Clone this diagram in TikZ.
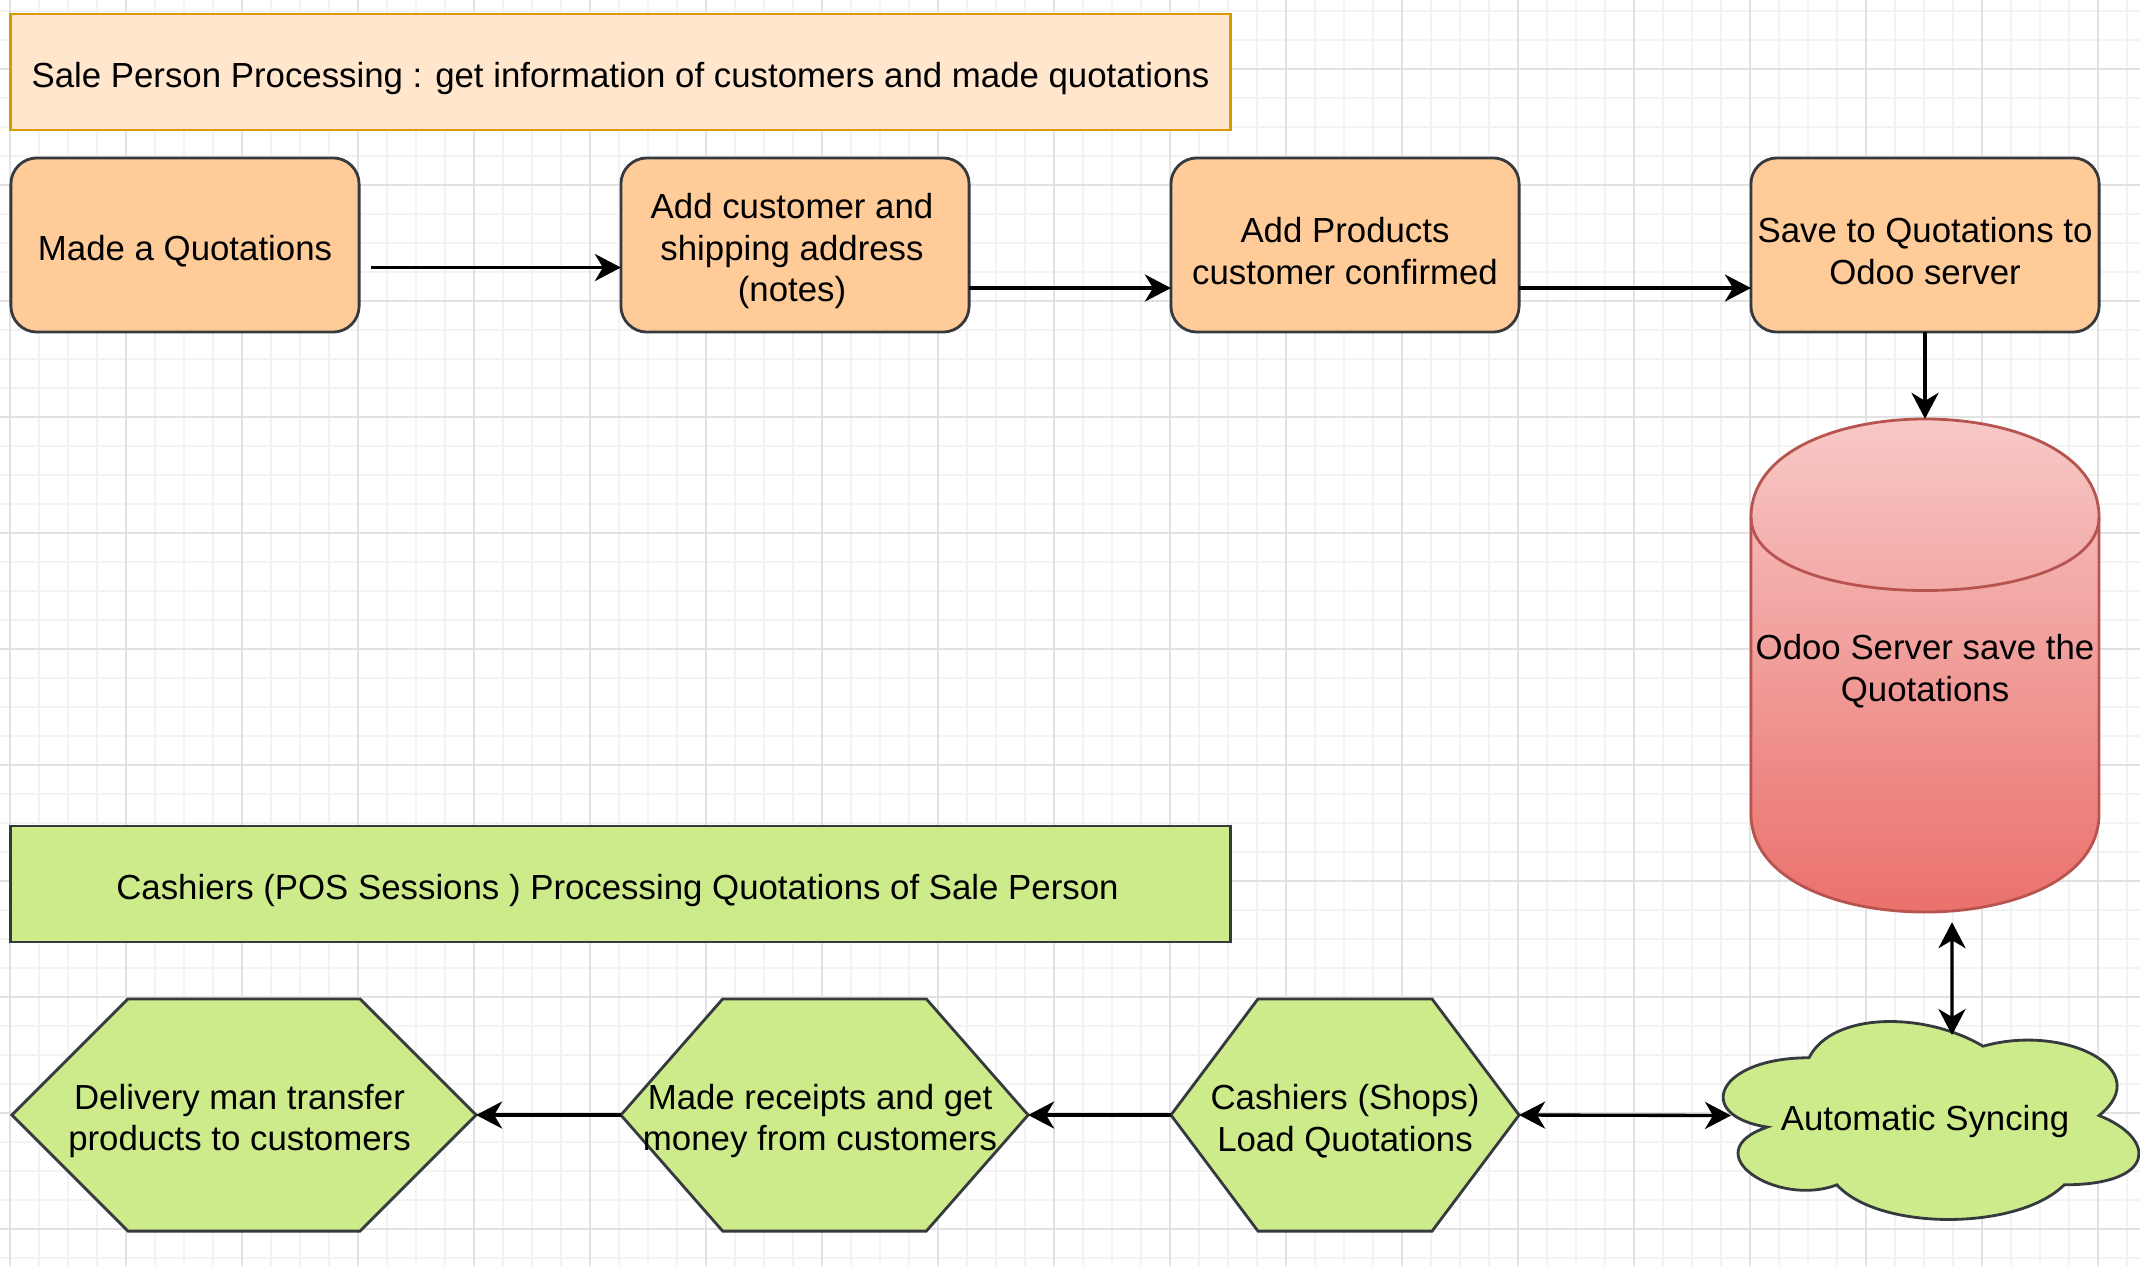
\documentclass[tikz,border=0pt]{standalone}
\usepackage{fontspec}
\setmainfont{Liberation Sans}
\usetikzlibrary{arrows.meta}
\definecolor{peachL}{HTML}{FFE6CC}
\definecolor{peachS}{HTML}{D79B00}
\definecolor{peach}{HTML}{FFCC99}
\definecolor{darkS}{HTML}{36393D}
\definecolor{lime}{HTML}{CDEB8B}
\definecolor{redT}{HTML}{F8CECC}
\definecolor{redB}{HTML}{EA6B66}
\definecolor{redS}{HTML}{B85450}
\definecolor{gridminor}{HTML}{F3F3F3}
\definecolor{gridmajor}{HTML}{E2E2E2}
\pgfdeclarelayer{gridlayer}
\pgfdeclarelayer{bg}
\pgfsetlayers{gridlayer,bg,main}
\tikzset{
  shp/.style={inner sep=0pt, outer sep=0pt},
  lbl/.style={font=\fontsize{9.9}{11.9}\selectfont, align=center, inner sep=0pt, outer sep=0pt},
  titlebox/.style={shp, draw=peachS, fill=peachL, line width=0.8pt, minimum width=12.19cm, minimum height=1.16cm},
  greenbar/.style={shp, draw=darkS, fill=lime, line width=0.8pt, minimum width=12.19cm, minimum height=1.16cm},
  stepbox/.style={shp, draw=darkS, fill=peach, line width=0.8pt, rounded corners=0.26cm, minimum width=3.48cm, minimum height=1.74cm},
  hexnode/.style={shp, minimum height=2.32cm},
  hexsty/.style={draw=darkS, fill=lime, line width=0.8pt, line join=miter},
  tip/.tip={Stealth[length=0.26cm,width=0.27cm,inset=0.08cm]},
  arr/.style={-tip, line width=0.95pt, black},
  darr/.style={tip-tip, line width=0.95pt, black},
}
\newcommand{\txtat}[3][0cm]{\node[lbl] at ([xshift=#1,yshift=-0.06cm]#2.center) {#3};}
\begin{document}
\begin{tikzpicture}[x=0.01cm,y=-0.01cm]
\useasboundingbox (0,0) rectangle (2140,1266);
\begin{pgfonlayer}{gridlayer}
  \fill[white] (0,0) rectangle (2140,1266);
  \foreach \x in {10,39,...,2140} \draw[gridminor, line width=0.5pt] (\x,0) -- (\x,1266);
  \foreach \y in {11,40,...,1266} \draw[gridminor, line width=0.5pt] (0,\y) -- (2140,\y);
  \foreach \x in {10,126,...,2140} \draw[gridmajor, line width=0.5pt] (\x,0) -- (\x,1266);
  \foreach \y in {69,185,...,1266} \draw[gridmajor, line width=0.5pt] (0,\y) -- (2140,\y);
\end{pgfonlayer}

% cylinder (database)
\shade[top color=redT, bottom color=redB] (1751,517) .. controls (1751,386.3) and (2099,386.3) .. (2099,517) -- (2099,814) .. controls (2099,944.7) and (1751,944.7) .. (1751,814) -- cycle;
\draw[redS, line width=0.8pt] (1751,517) .. controls (1751,386.3) and (2099,386.3) .. (2099,517) -- (2099,814) .. controls (2099,944.7) and (1751,944.7) .. (1751,814) -- cycle;
\draw[redS, line width=0.8pt] (1751,517) .. controls (1751,615) and (2099,615) .. (2099,517);

% cloud
\draw[darkS, fill=lime, line width=0.8pt] (1809,1057.75)
  .. controls (1716.2,1057.75) and (1693,1115.5) .. (1767.24,1127.05)
  .. controls (1693,1152.46) and (1776.52,1207.9) .. (1836.84,1184.8)
  .. controls (1878.6,1231) and (2017.8,1231) .. (2064.2,1184.8)
  .. controls (2157,1184.8) and (2157,1138.6) .. (2099,1115.5)
  .. controls (2157,1069.3) and (2064.2,1023.1) .. (1983,1046.2)
  .. controls (1925,1011.55) and (1832.2,1011.55) .. (1809,1057.75) -- cycle;

% title boxes
\node[titlebox] (t1) at (620.5,72) {};
\txtat{t1}{Sale Person Processing : get information of customers and made quotations}
\node[greenbar] (t2) at (620.5,884) {};
\txtat[-0.03cm]{t2}{Cashiers (POS Sessions ) Processing Quotations of Sale Person}

% row 1
\node[stepbox] (A) at (185,245) {};
\txtat{A}{Made a Quotations}
\node[stepbox] (B) at (795,245) {};
\txtat[-0.03cm]{B}{Add customer and\\shipping address\\(notes)}
\node[stepbox] (C) at (1345,245) {};
\txtat{C}{Add Products\\customer confirmed}
\node[stepbox] (D) at (1925,245) {};
\txtat{D}{Save to Quotations to\\Odoo server}

% database and cloud
\node[shp, minimum width=3.48cm, minimum height=4.93cm] (db) at (1925,665.5) {};
\txtat{db}{Odoo Server save the\\Quotations}
\node[shp, minimum width=4.64cm, minimum height=2.31cm] (cloud) at (1925,1115.5) {};
\txtat{cloud}{Automatic Syncing}
\coordinate (cloudtop) at (1952,1035);
\coordinate (cloudleft) at (1731,1115.5);

% hexagons
\node[hexnode, minimum width=4.64cm] (h1) at (244,1115) {};
\node[hexnode, minimum width=4.07cm] (h2) at (824.5,1115) {};
\node[hexnode, minimum width=3.48cm] (h3) at (1345,1115) {};
\draw[hexsty] (h1.west) -- ([xshift=1.16cm]h1.north west) -- ([xshift=-1.16cm]h1.north east) -- (h1.east) -- ([xshift=-1.16cm]h1.south east) -- ([xshift=1.16cm]h1.south west) -- cycle;
\draw[hexsty] (h2.west) -- ([xshift=1.0175cm]h2.north west) -- ([xshift=-1.0175cm]h2.north east) -- (h2.east) -- ([xshift=-1.0175cm]h2.south east) -- ([xshift=1.0175cm]h2.south west) -- cycle;
\draw[hexsty] (h3.west) -- ([xshift=0.87cm]h3.north west) -- ([xshift=-0.87cm]h3.north east) -- (h3.east) -- ([xshift=-0.87cm]h3.south east) -- ([xshift=0.87cm]h3.south west) -- cycle;
\txtat[-0.045cm]{h1}{Delivery man transfer\\products to customers}
\txtat[-0.045cm]{h2}{Made receipts and get\\money from customers}
\txtat{h3}{Cashiers (Shops)\\Load Quotations}

% connectors
\draw[arr] ([xshift=0.12cm,yshift=-0.225cm]A.east) -- ([yshift=-0.225cm]B.west);
\draw[arr] ([yshift=-0.43cm]B.east) -- ([yshift=-0.43cm]C.west);
\draw[arr] ([yshift=-0.43cm]C.east) -- ([yshift=-0.43cm]D.west);
\draw[arr] (D.south) -- (db.north);
\draw[darr] ([xshift=0.27cm,yshift=-0.1cm]db.south) -- (cloudtop);
\draw[darr] (h3.east) -- (cloudleft);
\draw[arr] (h3.west) -- (h2.east);
\draw[arr] (h2.west) -- (h1.east);
\end{tikzpicture}
\end{document}
